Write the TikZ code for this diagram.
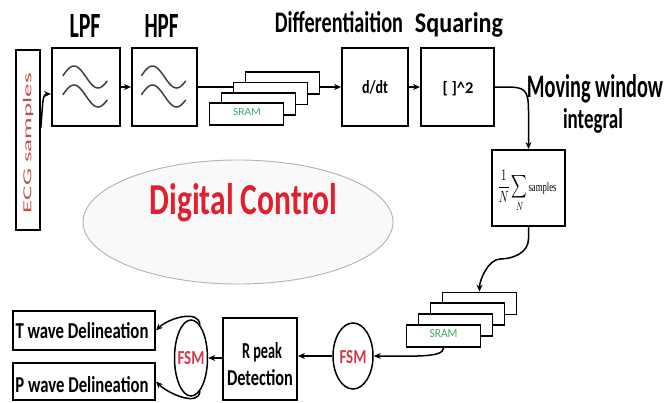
\documentclass[tikz,border=0pt]{standalone}
\usepackage{fontspec}
\setmainfont{Carlito}
\newfontfamily\timesrm{Liberation Serif}
\usepackage{graphicx}
\usetikzlibrary{shapes.geometric,arrows.meta,calc}

\definecolor{dcred}{HTML}{E0202E}
\definecolor{fsmred}{HTML}{D23A4E}
\definecolor{ecgred}{HTML}{C0504D}
\definecolor{sramgreen}{HTML}{3DAA6A}

% scale a text to a given width and height (in pt)
\newcommand{\fitlbl}[3]{\resizebox{#1pt}{#2pt}{#3}}

\begin{document}
\begin{tikzpicture}[x=1pt,y=-1pt,
  blk/.style={draw, line width=1.9pt, fill=white, inner sep=0pt},
  sram/.style={draw, line width=1.8pt, fill=white, inner sep=0pt,
               minimum width=74pt, minimum height=22pt},
  fsmnode/.style={draw, ellipse, line width=1.5pt, fill=white, inner sep=0pt},
  lbl/.style={inner sep=0pt, anchor=base},
  arr/.style={line width=1.5pt, -{Stealth[length=7pt,width=6pt]}},
  wave/.style={line width=1.5pt, black!75, line cap=round}]
\useasboundingbox (0,0) rectangle (666,402);

% ---------- upper chain ----------
\node[blk, line width=1.6pt, minimum width=24pt, minimum height=180pt] (ecg) at (28,140) {};
\node[inner sep=0pt, rotate=90, text=ecgred] (ecgtxt) at (28,143) {\fitlbl{140}{8.5}{ECG samples}};

\node[blk, minimum width=68pt, minimum height=78pt] (lpf) at (86,87) {};
\node[blk, minimum width=65pt, minimum height=78pt] (hpf) at (164.5,87) {};
\node[blk, minimum width=66pt, minimum height=78pt] (ddt) at (375,87) {};
\node[blk, minimum width=73pt, minimum height=78pt] (sq) at (457.5,87) {};
\node[blk, minimum width=73pt, minimum height=76pt] (integ) at (528.5,188) {};

% filter symbols
\foreach \cx in {86,164.5}{
  \foreach \dy in {-10,9}{
    \draw[wave] plot[domain=-23:21, samples=40] ({\cx+\x},{87+\dy-11*sin(7.5*(\x+24))});
  }
}

% titles
\node[lbl] (tlpf) at (85,37) {\fitlbl{31}{23}{\bfseries LPF}};
\node[lbl] (thpf) at (161.5,37) {\fitlbl{34}{23}{\bfseries HPF}};
\node[lbl] (tdif) at (339,32) {\fitlbl{128}{21}{\bfseries Differentiaition}};
\node[lbl] (tsq) at (459,32) {\fitlbl{88}{20}{\bfseries Squaring}};
\node[lbl] (tmov) at (595,97) {\fitlbl{136}{23}{\bfseries Moving window}};
\node[lbl] (tint) at (593,128) {\fitlbl{60}{20}{\bfseries integral}};

% block contents
\node[lbl] (tddt) at (375,93) {\fitlbl{26}{13}{\bfseries d/dt}};
\node[lbl] (tsqr) at (458,93) {\fitlbl{31}{12}{\bfseries [ ]\textasciicircum 2}};
\node[inner sep=0pt] (tform) at (527,191) {\resizebox*{59pt}{42pt}{$\displaystyle\frac{1}{N}\sum_{N}$\hspace{1pt}{\timesrm\footnotesize samples}}};

% upper memory stack
\node[sram] (s4) at (282.5,83) {};
\draw[line width=1.5pt] (hpf.east) -- (hpf.east -| s4.west);
\node[sram] (s3) at (270.5,93.5) {};
\node[sram] (s2) at (258.5,104) {};
\node[sram] (s1) at (246.5,114) {};
\node[inner sep=0pt, text=sramgreen] (s1txt) at (247,112) {\fitlbl{28}{7}{SRAM}};

% upper connectors
\draw[arr] ($(ecg.east)+(0,-12)$) .. controls +(2,-22) and +(-9,0) .. ($(lpf.west)+(0,7)$);
\draw[arr] (lpf) -- (hpf);
\draw[arr] (ddt.west -| s4.east) -- (ddt.west);
\draw[arr] (ddt) -- (sq);
\draw[arr] (sq.east) -- ++(10,0) .. controls +(20,0) and +(0,-22) .. ($(integ.north)+(0,-38)$) -- (integ.north);

% ---------- digital control ----------
\node[draw=gray!60, fill=gray!5, ellipse, line width=0.9pt,
      minimum width=310pt, minimum height=124pt] (dc) at (238,222) {};
\node[lbl, text=dcred] (dctxt) at (243.5,214) {\fitlbl{188}{31}{\bfseries Digital Control}};

% ---------- lower chain ----------
\node[sram] (t4) at (479.5,303.5) {};
\node[sram] (t3) at (467.5,314) {};
\node[sram] (t2) at (455.5,325) {};
\node[sram] (t1) at (443.5,336) {};
\node[inner sep=0pt, text=sramgreen] (t1txt) at (443.5,334) {\fitlbl{28}{8}{SRAM}};

\node[fsmnode, minimum width=40pt, minimum height=66pt] (fsm2) at (353,356) {};
\node[inner sep=0pt, text=fsmred] (fsm2txt) at (353,357) {\fitlbl{27}{13}{\bfseries FSM}};

\node[blk, minimum width=74pt, minimum height=82pt] (rpk) at (260,359) {};
\node[lbl] (trpk1) at (262,358) {\fitlbl{40}{16}{\bfseries R peak}};
\node[lbl] (trpk2) at (260,385) {\fitlbl{66}{16}{\bfseries Detection}};

\node[fsmnode, minimum width=33pt, minimum height=76pt] (fsm1) at (191,358) {};
\node[inner sep=0pt, text=fsmred] (fsm1txt) at (191,358) {\fitlbl{27}{13}{\bfseries FSM}};

\node[blk, minimum width=142pt, minimum height=39pt] (tw) at (84,330.5) {};
\node[lbl] (ttw) at (82,338) {\fitlbl{133}{16}{\bfseries T wave Delineation}};
\node[blk, minimum width=142pt, minimum height=37pt] (pw) at (84,381.5) {};
\node[lbl] (tpw) at (82,392) {\fitlbl{133}{16}{\bfseries P wave Delineation}};

% lower connectors
\draw[arr] (integ.south) -- ++(0,12)
  .. controls +(0,14) and +(12,0) .. ++(-28,20)
  .. controls +(-12,0) and +(0,-12) .. (t4.north);
\draw[arr] (t1.south) .. controls +(0,10) and +(40,0) .. (fsm2.east);
\draw[arr] (fsm2.west) -- (fsm2.west -| rpk.east);
\draw[arr] (fsm1.east -| rpk.west) -- (fsm1.east);
\draw[arr] (fsm1.75) .. controls +(-1,-16) and +(12,-12) .. (tw.east);
\draw[arr] (fsm1.-75) .. controls +(-1,16) and +(12,12) .. (pw.east);
\end{tikzpicture}
\end{document}
